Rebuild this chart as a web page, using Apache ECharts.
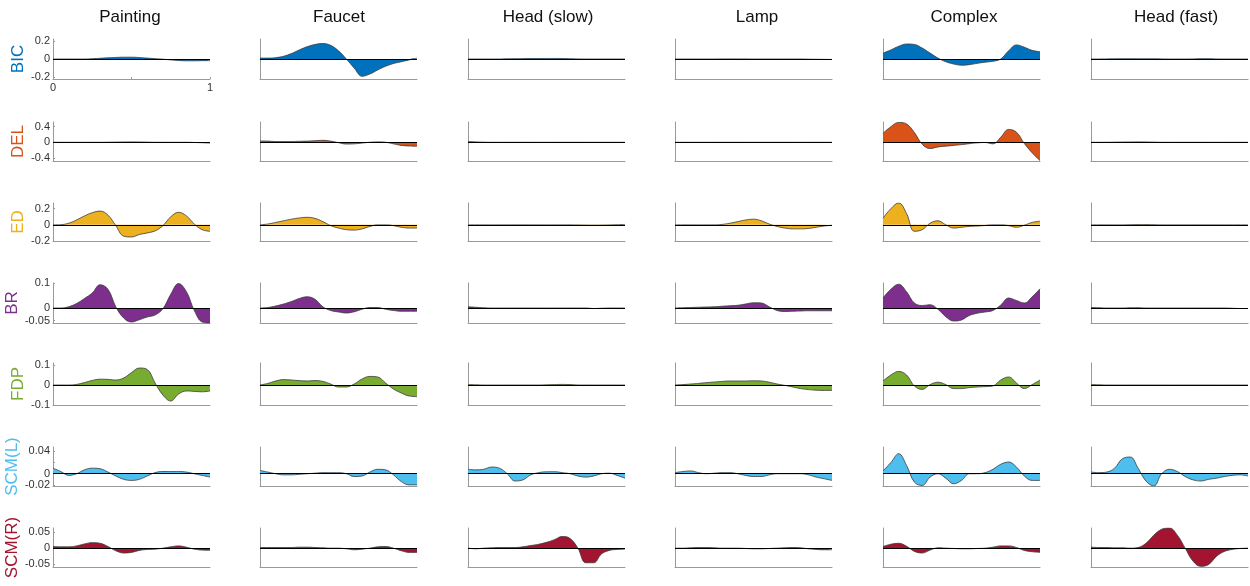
<!DOCTYPE html>
<html><head><meta charset="utf-8">
<script src="https://cdn.jsdelivr.net/npm/echarts@6/dist/echarts.min.js"></script>
<style>html,body{margin:0;padding:0;background:#fff}#c{width:1250px;height:586px}</style>
</head><body><div id="c"></div>
<script>
// ---------- data ----------
const columns = ['Painting','Faucet','Head (slow)','Lamp','Complex','Head (fast)'];
const rowNames = ['BIC','DEL','ED','BR','FDP','SCM(L)','SCM(R)'];
const rowColors = ['#0072BD','#D95319','#EDB120','#7E2F8E','#77AC30','#4DBEEE','#A2142F'];
const xs = [0,0.05,0.1,0.15,0.2,0.25,0.3,0.35,0.4,0.45,0.5,0.55,0.6,0.65,0.7,0.75,0.8,0.85,0.9,0.95,1];
// y-axis ranges and tick labels per row
const yMin = [-0.22,-0.48,-0.2,-0.06,-0.1,-0.022,-0.058];
const yMax = [0.22,0.52,0.27,0.1,0.11,0.048,0.062];
const yTicks = [[-0.2,0,0.2],[-0.4,0,0.4],[-0.2,0,0.2],[-0.05,0,0.1],[-0.1,0,0.1],[-0.02,0,0.04],[-0.05,0,0.05]];

// BIC
const bicPainting = [0,0,0,0,0,0.003,0.008,0.013,0.017,0.02,0.02,0.016,0.01,0.004,-0.002,-0.01,-0.016,-0.02,-0.02,-0.018,-0.018];
const bicFaucet   = [0.01,0.01,0.015,0.03,0.06,0.1,0.135,0.16,0.17,0.15,0.09,0.0,-0.1,-0.19,-0.165,-0.12,-0.08,-0.05,-0.03,-0.01,0.01];
const bicHeadSlow = [0,0,0,0,0,0.002,0.003,0.004,0.005,0.005,0.006,0.006,0.005,0.003,0.001,0,0,0,0,0,0];
const bicLamp     = [0,0,0,0,0,0,0.001,0.001,0.001,0.001,0,0,0,0,0,0,0,-0.002,-0.003,-0.004,-0.005];
const bicComplex  = [0.065,0.1,0.14,0.165,0.16,0.12,0.065,0.01,-0.03,-0.055,-0.068,-0.062,-0.048,-0.035,-0.025,0.0,0.09,0.155,0.13,0.095,0.08];
const bicHeadFast = [0,0,0.001,0.002,0.003,0.003,0.002,0.002,0.002,0.001,0,0,0,0.001,0.003,0.003,0.001,0,0,0,0];
// DEL
const delPainting = [0,0,0,0,0,0,0,0.002,0.005,0.008,0.01,0.008,0.004,0,0,0,0,0,-0.005,-0.012,-0.02];
const delFaucet   = [0.035,0.03,0.02,0.02,0.02,0.025,0.03,0.04,0.05,0.03,-0.01,-0.045,-0.04,-0.02,0.0,0.01,0.0,-0.04,-0.08,-0.095,-0.1];
const delHeadSlow = [0.02,0.01,0.003,0,0,0,0,0,0,0,0,0,0,0,0,0,0,0,0,0,0];
const delLamp     = [0,0,0,0,0,0,0,0,0,0,0,0,0,0,0,0,0,0,0,0,0];
const delComplex  = [0.23,0.4,0.51,0.47,0.25,-0.05,-0.16,-0.12,-0.1,-0.08,-0.06,-0.035,-0.015,-0.005,-0.04,0.13,0.33,0.26,-0.03,-0.27,-0.47];
const delHeadFast = [0,0,0,0.003,0.006,0.008,0.01,0.008,0.004,0,0,0,0,0,0,0,0,0,0,0,0];
// ED
const edPainting  = [0,0.002,0.02,0.06,0.11,0.15,0.17,0.12,-0.01,-0.14,-0.15,-0.12,-0.1,-0.075,-0.01,0.1,0.155,0.11,0.01,-0.06,-0.08];
const edFaucet    = [0,0.01,0.03,0.05,0.07,0.085,0.093,0.08,0.04,-0.01,-0.04,-0.06,-0.065,-0.05,-0.02,0.0,0.0,-0.01,-0.03,-0.04,-0.04];
const edHeadSlow  = [0,0,0,0,0,0,0,0,0,0,0,0,0,0,-0.002,-0.004,-0.005,-0.004,-0.002,0.002,0.005];
const edLamp      = [0,0,0,0,0,0,0.005,0.02,0.04,0.06,0.07,0.05,0.01,-0.02,-0.04,-0.05,-0.05,-0.045,-0.03,-0.015,-0.005];
const edComplex   = [0.08,0.2,0.27,0.14,-0.08,-0.06,0.02,0.05,0.0,-0.04,-0.03,-0.02,-0.015,-0.008,0.0,0.0,-0.01,-0.03,-0.005,0.03,0.045];
const edHeadFast  = [0,0,0,0,0,0.002,0.003,0.003,0.002,0,0,0,0,0,0,0,0,0,0,0,0];
// BR
const brPainting  = [0,0,0.005,0.018,0.038,0.06,0.093,0.075,0.005,-0.04,-0.056,-0.047,-0.036,-0.028,-0.003,0.055,0.098,0.065,-0.01,-0.056,-0.06];
const brFaucet    = [0,0.002,0.008,0.016,0.026,0.038,0.045,0.035,0.005,-0.01,-0.016,-0.02,-0.015,-0.005,0.002,0.002,-0.005,-0.01,-0.013,-0.013,-0.013];
const brHeadSlow  = [0.005,0.003,0.001,0,0,0,0,0,0,0,0,0,0,0,0,0,-0.002,-0.001,0,0,0];
const brLamp      = [0,0.001,0.002,0.003,0.004,0.005,0.007,0.009,0.011,0.016,0.021,0.02,0.005,-0.01,-0.014,-0.013,-0.012,-0.011,-0.011,-0.011,-0.011];
const brComplex   = [0.04,0.075,0.095,0.065,0.02,0.01,0.013,-0.005,-0.035,-0.052,-0.048,-0.03,-0.021,-0.016,-0.01,0.012,0.04,0.03,0.02,0.045,0.077];
const brHeadFast  = [0.002,0.001,0,0,0,0.001,0.001,0,0,0,0,0,0,0,0,0,0,0,-0.001,-0.002,-0.002];
// FDP
const fdpPainting = [0,0,0,0.003,0.012,0.023,0.029,0.028,0.025,0.035,0.062,0.085,0.078,0.01,-0.05,-0.08,-0.045,-0.03,-0.032,-0.034,-0.03];
const fdpFaucet   = [0,0.008,0.02,0.027,0.025,0.022,0.02,0.022,0.018,0.005,-0.01,-0.01,0.005,0.03,0.043,0.04,0.01,-0.02,-0.04,-0.055,-0.058];
const fdpHeadSlow = [0.002,0.001,0,0,0,0,0,0,0,0,0.001,0.002,0.003,0.002,0,0,0,0,0,0,0];
const fdpLamp     = [0,0.002,0.005,0.008,0.012,0.015,0.018,0.02,0.02,0.02,0.021,0.02,0.014,0.005,-0.002,-0.01,-0.018,-0.023,-0.026,-0.027,-0.027];
const fdpComplex  = [0.02,0.05,0.068,0.05,-0.005,-0.022,0.002,0.014,0.002,-0.018,-0.018,-0.013,-0.01,-0.008,-0.005,0.025,0.04,0.01,-0.018,0.002,0.025];
const fdpHeadFast = [0.002,0.001,0,0,0,0,0,0,0,0,0,0,0,0,0,0,0,0,0,0,0];
// SCM(L)
const sclPainting = [0.01,0.004,-0.003,0.0,0.007,0.01,0.009,0.003,-0.004,-0.01,-0.012,-0.01,-0.004,0.002,0.004,0.004,0.004,0.003,0.0,-0.003,-0.006];
const sclFaucet   = [0.006,0.003,0.0,-0.002,-0.002,-0.001,0.0,0.001,0.002,0.002,0.002,0.0,-0.005,-0.004,0.003,0.008,0.007,-0.002,-0.014,-0.02,-0.02];
const sclHeadSlow = [0.008,0.007,0.008,0.012,0.01,0.0,-0.013,-0.011,-0.002,0.002,0.0035,0.0037,0.002,0.0,-0.004,-0.006,-0.004,0.0,0.001,-0.003,-0.008];
const sclLamp     = [0.002,0.004,0.005,0.002,0.0,0.001,0.002,0.002,0.0,-0.003,-0.005,-0.005,-0.002,0.0,0.0,0.0,0.0,-0.002,-0.006,-0.009,-0.012];
const sclComplex  = [0.005,0.02,0.036,0.015,-0.015,-0.021,-0.006,0.0,-0.008,-0.018,-0.012,0.0,0.0,0.002,0.008,0.017,0.021,0.012,-0.004,-0.012,-0.012];
const sclHeadFast = [0.003,0.002,0.003,0.01,0.027,0.03,0.01,-0.013,-0.022,0.0,0.008,0.004,-0.005,-0.011,-0.013,-0.01,-0.008,-0.005,-0.003,-0.002,-0.004];
// SCM(R)
const scrPainting = [0.005,0.004,0.004,0.007,0.013,0.017,0.015,0.005,-0.008,-0.015,-0.013,-0.007,-0.004,-0.003,0.0,0.004,0.007,0.003,-0.003,-0.006,-0.007];
const scrFaucet   = [0.002,0.002,0.002,0.002,0.002,0.003,0.003,0.002,0.001,0.0,0.0,-0.002,-0.005,-0.003,0.0,0.004,0.005,0.0,-0.008,-0.013,-0.013];
const scrHeadSlow = [0.0,-0.002,0.0,0.001,0.002,0.002,0.002,0.004,0.008,0.012,0.018,0.026,0.036,0.03,0.0,-0.045,-0.045,-0.018,-0.007,-0.004,-0.003];
const scrLamp     = [0,0,0.001,0.002,0.002,0.001,0,0,0,-0.001,-0.002,-0.002,-0.001,0,0.001,0.002,0.001,-0.002,-0.004,-0.005,-0.005];
const scrComplex  = [0.005,0.012,0.015,0.006,-0.01,-0.015,-0.006,0.001,0.0,-0.001,-0.002,-0.002,-0.001,0.0,0.003,0.007,0.007,0.002,-0.007,-0.011,-0.013];
const scrHeadFast = [0.003,0.002,0.002,0.001,0.001,0.0,0.002,0.015,0.04,0.058,0.062,0.04,0.0,-0.04,-0.056,-0.05,-0.025,-0.01,-0.004,-0.001,0.0];

const panels = [
  [bicPainting,bicFaucet,bicHeadSlow,bicLamp,bicComplex,bicHeadFast],
  [delPainting,delFaucet,delHeadSlow,delLamp,delComplex,delHeadFast],
  [edPainting,edFaucet,edHeadSlow,edLamp,edComplex,edHeadFast],
  [brPainting,brFaucet,brHeadSlow,brLamp,brComplex,brHeadFast],
  [fdpPainting,fdpFaucet,fdpHeadSlow,fdpLamp,fdpComplex,fdpHeadFast],
  [sclPainting,sclFaucet,sclHeadSlow,sclLamp,sclComplex,sclHeadFast],
  [scrPainting,scrFaucet,scrHeadSlow,scrLamp,scrComplex,scrHeadFast]
];

// ---------- layout ----------
const colLeft = [53,260,468,675,883,1091];
const titleX = [130,339,548,757,964,1176];
const panelW = 157;
const rowTop = [39,122,203,283,363,447,528];
const rowH = [40,39,38,40,42,39,39];
const FONT = "'Liberation Sans', Arial, sans-serif";

const grid = [], xAxis = [], yAxis = [], series = [], graphic = [];
columns.forEach((c, ci) => {
  graphic.push({type: 'text', x: titleX[ci], y: 17, silent: true,
    style: {text: c, align: 'center', verticalAlign: 'middle', font: "17px 'Liberation Sans', Arial, sans-serif", fill: '#111'}});
});
let gi = 0;
for (let r = 0; r < rowNames.length; r++) {
  for (let c = 0; c < columns.length; c++) {
    grid.push({left: colLeft[c], top: rowTop[r], width: panelW, height: rowH[r], containLabel: false});
    const first = (r === 0 && c === 0);
    xAxis.push({gridIndex: gi, type: 'value', min: 0, max: 1,
      axisLine: {show: true, onZero: false, lineStyle: {color: '#999', width: 1}},
      axisTick: {show: first, inside: true, length: 2, customValues: [0,0.5,1], lineStyle: {color: '#999'}},
      axisLabel: {show: first, customValues: [0,1], fontFamily: FONT, fontSize: 11, color: '#333', margin: 3},
      splitLine: {show: false}});
    yAxis.push({gridIndex: gi, type: 'value', min: yMin[r], max: yMax[r],
      axisLine: {show: true, onZero: false, lineStyle: {color: '#999', width: 1}},
      axisTick: {show: c === 0, inside: true, length: 2,
        customValues: r === 5 ? [-0.02,0,0.02,0.04] : yTicks[r], lineStyle: {color: '#999'}},
      axisLabel: {show: c === 0, customValues: yTicks[r], fontFamily: FONT, fontSize: 11, color: '#333', margin: 3,
        formatter: v => String(v)},
      splitLine: {show: false},
      name: c === 0 ? rowNames[r] : '', nameLocation: 'middle', nameRotate: 90, nameGap: 24,
      nameTextStyle: {color: rowColors[r], fontFamily: FONT, fontSize: 17}});
    series.push({type: 'line', xAxisIndex: gi, yAxisIndex: gi, smooth: 0.4, symbol: 'none',
      data: xs.map((x, i) => [x, panels[r][c][i]]),
      lineStyle: {color: '#3a3a3a', width: 0.8},
      areaStyle: {color: rowColors[r], opacity: 1, origin: 0},
      markLine: {silent: true, symbol: 'none', label: {show: false},
        lineStyle: {color: '#000', width: 1, type: 'solid'}, data: [{yAxis: 0}]},
      animation: false});
    gi++;
  }
}

const chart = echarts.init(document.getElementById('c'), null, {renderer: 'canvas'});
chart.setOption({animation: false, backgroundColor: '#fff', graphic, grid, xAxis, yAxis, series});
</script>
</body></html>
